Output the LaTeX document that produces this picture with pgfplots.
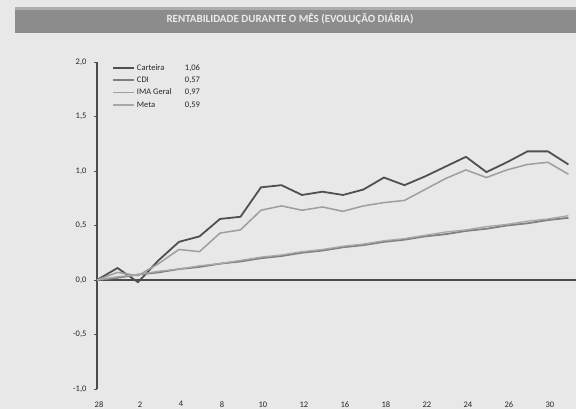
\documentclass[border=0pt]{standalone}
\usepackage{pgfplots}
\pgfplotsset{compat=1.18}
\usepackage{pgfplotstable}
\usepackage{fontspec}
\setmainfont{Carlito}
\definecolor{bg}{RGB}{232,232,232}
\definecolor{banner}{RGB}{140,140,140}
\definecolor{cart}{RGB}{80,80,80}
\definecolor{cdi}{RGB}{128,128,128}
\definecolor{ima}{RGB}{158,158,158}
\definecolor{meta}{RGB}{168,168,168}
\definecolor{axisc}{RGB}{75,75,75}
\pgfplotstableread{
idx cart cdi ima meta
0 0.00 0.00 0.00 0.00
1 0.11 0.02 0.07 0.03
2 -0.02 0.05 0.04 0.05
3 0.18 0.07 0.15 0.08
4 0.35 0.10 0.28 0.10
5 0.40 0.12 0.26 0.13
6 0.56 0.15 0.43 0.15
7 0.58 0.17 0.46 0.18
8 0.85 0.20 0.64 0.21
9 0.87 0.22 0.68 0.23
10 0.78 0.25 0.64 0.26
11 0.81 0.27 0.67 0.28
12 0.78 0.30 0.63 0.31
13 0.83 0.32 0.68 0.33
14 0.94 0.35 0.71 0.36
15 0.87 0.37 0.73 0.38
16 0.95 0.40 0.83 0.41
17 1.04 0.42 0.93 0.44
18 1.13 0.45 1.01 0.46
19 0.99 0.47 0.94 0.49
20 1.08 0.50 1.01 0.51
21 1.18 0.52 1.06 0.54
22 1.18 0.55 1.08 0.56
23 1.06 0.57 0.97 0.59
}\datatable
\begin{document}
\begin{tikzpicture}
\useasboundingbox (0pt,0pt) rectangle (576pt,409pt);
\fill[bg] (0pt,0pt) rectangle (576pt,409pt);
\fill[banner] (15pt,376pt) rectangle (576pt,402pt);
\fill[banner!70!white] (15pt,399pt) rectangle (576pt,402pt);
\node[text=white!92!black,font=\bfseries\fontsize{11}{12}\selectfont] at (290pt,390pt) {RENTABILIDADE DURANTE O MÊS (EVOLUÇÃO DIÁRIA)};
\begin{axis}[
  at={(97pt,20pt)}, anchor=south west,
  scale only axis, width=479pt, height=327pt,
  xmin=0, xmax=23.37, ymin=-1, ymax=2,
  axis lines*=left,
  separate axis lines,
  x axis line style={draw=none},
  y axis line style={draw=axisc, line width=1.3pt},
  xtick={0,2,...,22},
  xticklabels={28,2,4,8,10,12,16,18,22,24,26,30},
  x tick style={draw=none},
  ytick={-1,-0.5,0,0.5,1,1.5,2},
  y tick style={draw=axisc, line width=0.8pt},
  tick align=outside, major tick length=3pt,
  yticklabel style={/pgf/number format/.cd, fixed, fixed zerofill, precision=1, use comma, /tikz/.cd, xshift=-4pt},
  xticklabel style={yshift=-6pt, xshift=2pt},
  /pgf/number format/assume math mode=true,
  tick label style={font=\fontsize{8.5}{9}\selectfont, text=black!85},
  legend style={draw=none, fill=none, at={(rel axis cs:0.025,1.006)}, anchor=north west, font=\fontsize{8.5}{9}\selectfont, row sep=1.2pt, text=black!85},
  legend cell align=left,
  legend image code/.code={\draw[#1] (0pt,0pt) -- (21pt,0pt);},
  clip=false,
]
\draw[axisc, line width=1.3pt] (rel axis cs:0,0.3333) -- (rel axis cs:1,0.3333);
\addplot[cart, line width=1.8pt] table[x=idx,y=cart] {\datatable};
\addlegendentry{\makebox[48pt][l]{Carteira}1,06}
\addplot[cdi, line width=1.8pt] table[x=idx,y=cdi] {\datatable};
\addlegendentry{\makebox[48pt][l]{CDI}0,57}
\addplot[ima, line width=1.5pt] table[x=idx,y=ima] {\datatable};
\addlegendentry{\makebox[48pt][l]{IMA Geral}0,97}
\addplot[meta, line width=1.3pt] table[x=idx,y=meta] {\datatable};
\addlegendentry{\makebox[48pt][l]{Meta}0,59}
\end{axis}
\end{tikzpicture}
\end{document}
